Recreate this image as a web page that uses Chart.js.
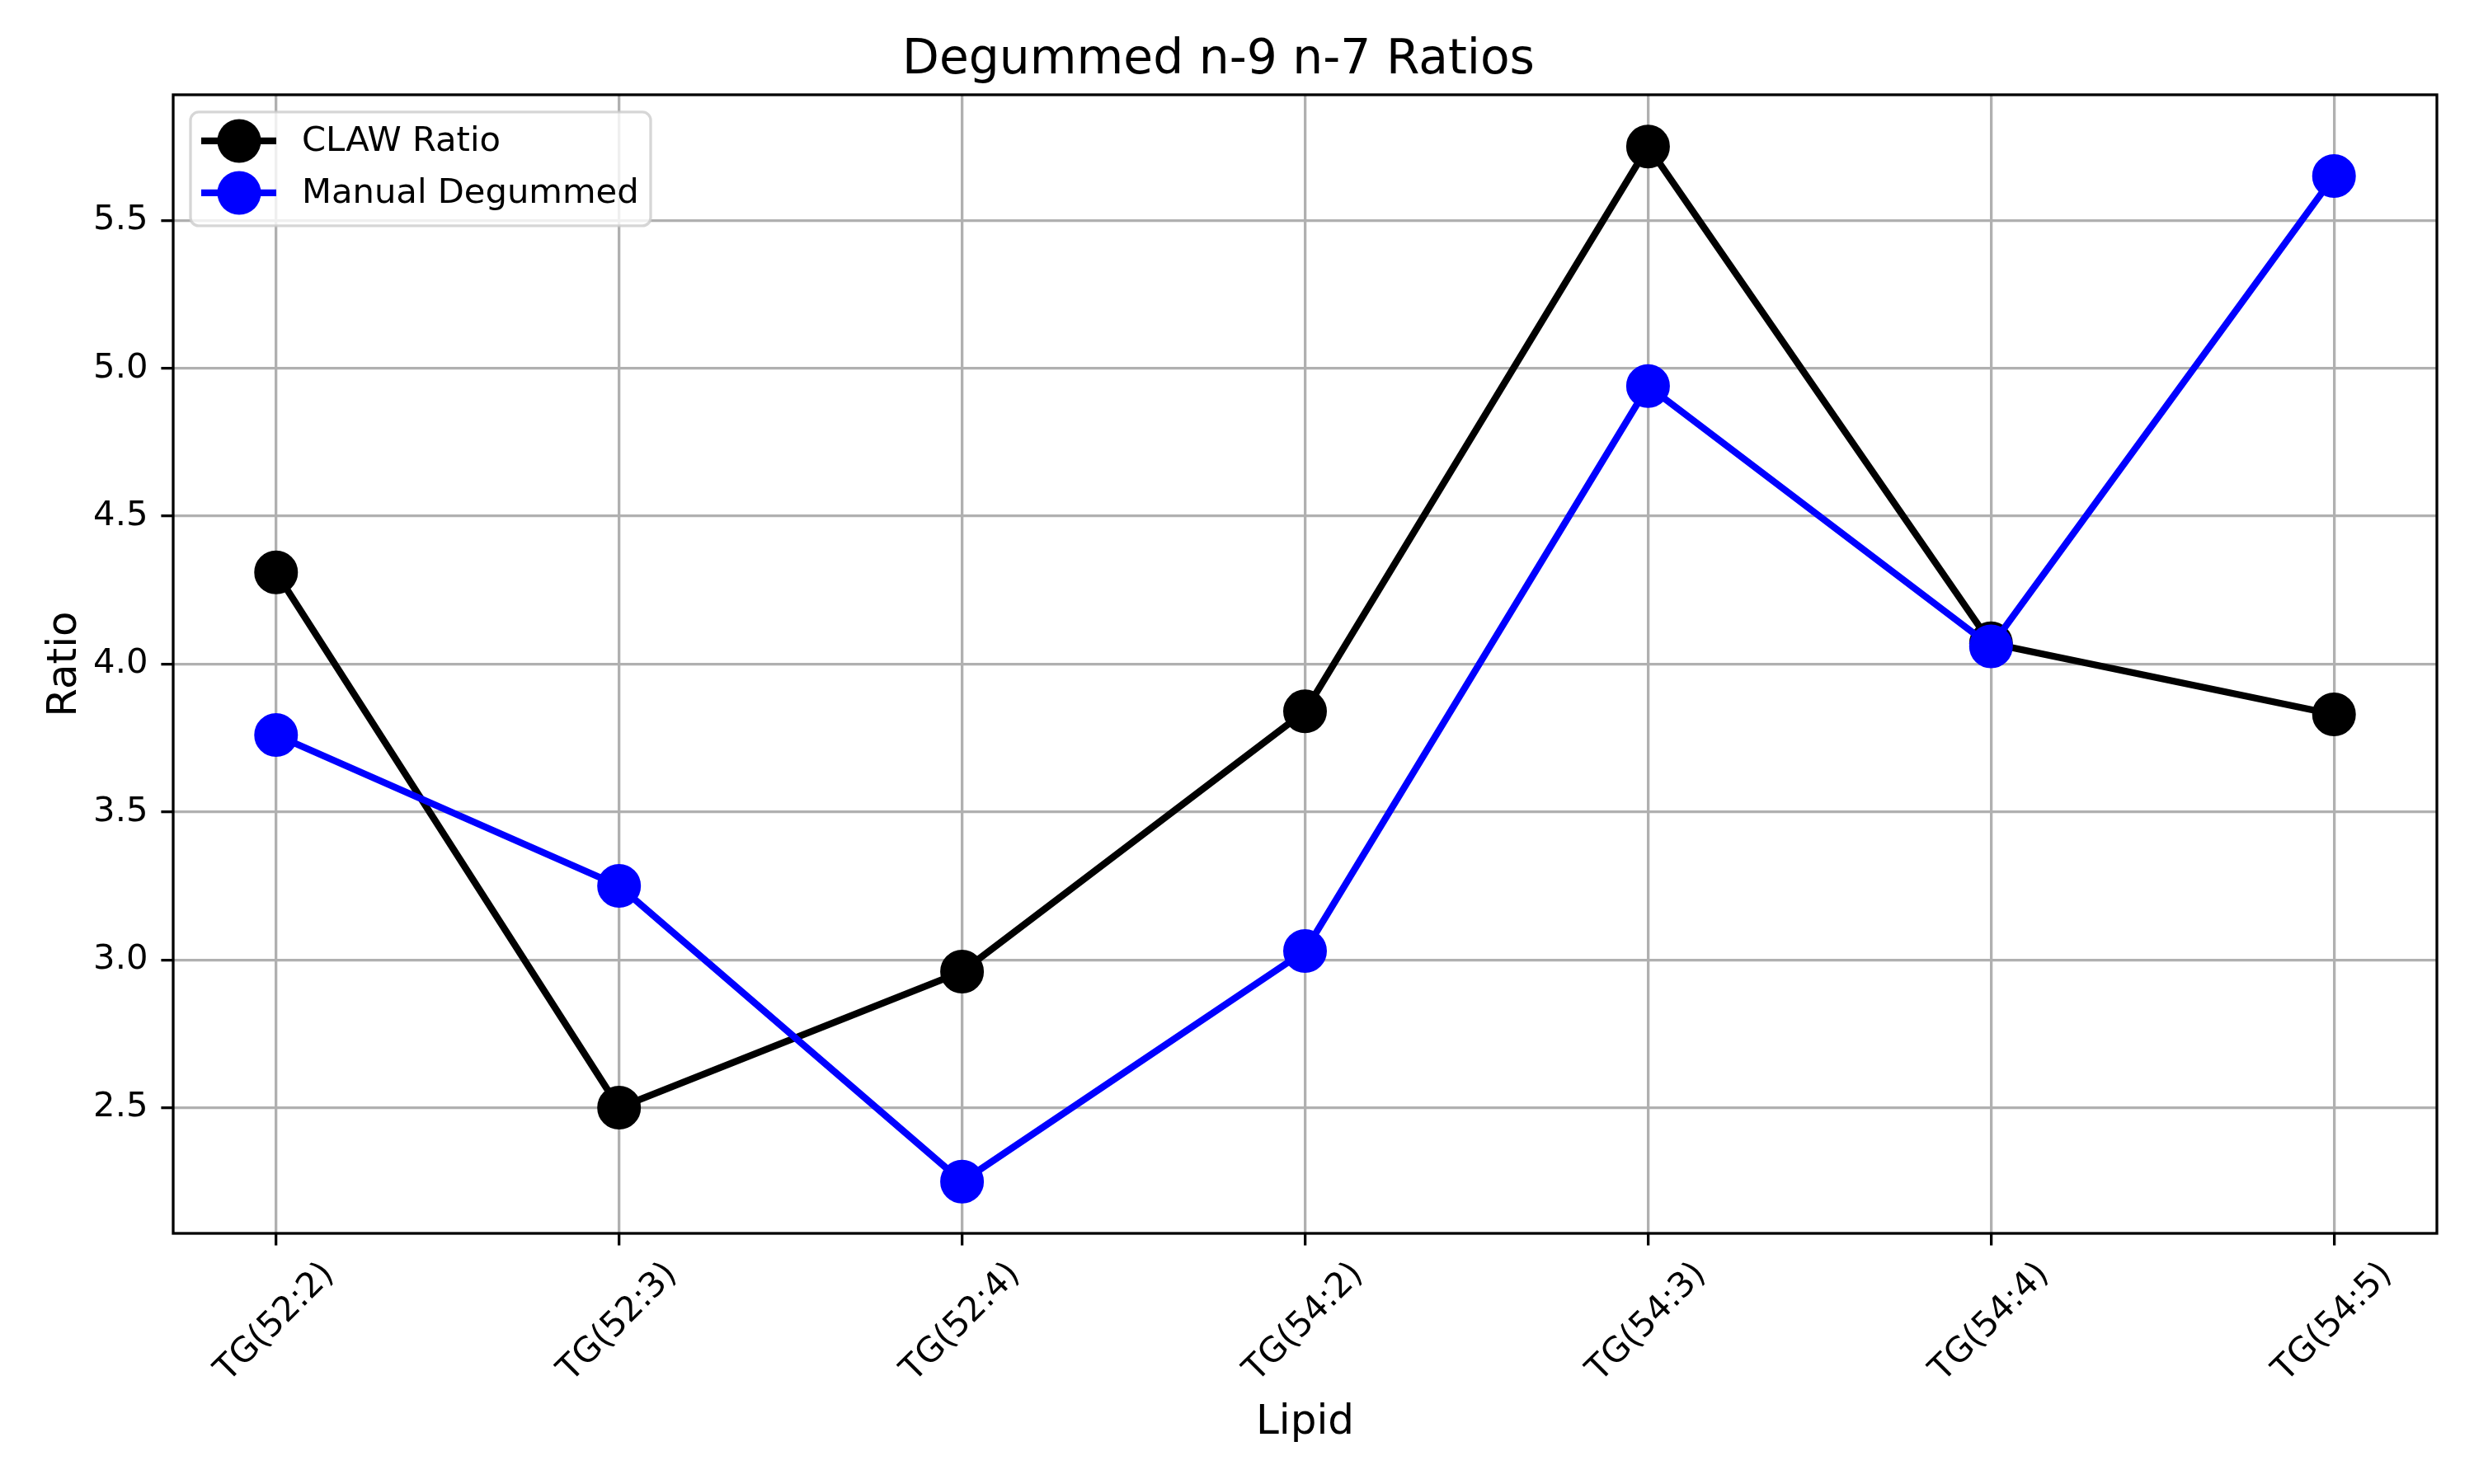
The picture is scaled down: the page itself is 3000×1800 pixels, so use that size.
<!DOCTYPE html>
<html><head><meta charset="utf-8">
<script src="https://cdn.jsdelivr.net/npm/chart.js@4.4.1/dist/chart.umd.min.js"></script>
<style>html,body{margin:0;padding:0;background:#fff}#wrap{width:3000px;height:1800px;position:relative}</style>
</head><body><div id="wrap"><canvas id="c"></canvas></div>
<script>
const categories = ['TG(52:2)','TG(52:3)','TG(52:4)','TG(54:2)','TG(54:3)','TG(54:4)','TG(54:5)'];
const clawRatio = [4.31, 2.50, 2.96, 3.84, 5.75, 4.07, 3.83];
const manualDegummed = [3.76, 3.25, 2.25, 3.03, 4.94, 4.06, 5.65];
const yTicks = [2.5, 3.0, 3.5, 4.0, 4.5, 5.0, 5.5];
const seriesNames = ['CLAW Ratio', 'Manual Degummed'];
const seriesColors = ['#000000', '#0000ff'];
const titleText = 'Degummed n-9 n-7 Ratios';
const xTitle = 'Lipid';
const yTitle = 'Ratio';

const FONT = "'DejaVu Sans', sans-serif";
const allVals = clawRatio.concat(manualDegummed);
const dMin = Math.min(...allVals), dMax = Math.max(...allVals);
const yPad = (dMax - dMin) * 0.05;
const xPad = (categories.length - 1) * 0.05;

const frame = {
  id: 'frame',
  afterDatasetsDraw(chart) {
    const a = chart.chartArea, ctx = chart.ctx;
    ctx.save();
    ctx.strokeStyle = '#000';
    ctx.lineWidth = 3.3;
    ctx.strokeRect(a.left, a.top, a.right - a.left, a.bottom - a.top);
    ctx.restore();
  }
};

const mplLegend = {
  id: 'mplLegend',
  afterDraw(chart) {
    const a = chart.chartArea, ctx = chart.ctx;
    const x0 = a.left + 21, y0 = a.top + 21, w = 558, h = 138, r = 10;
    ctx.save();
    ctx.beginPath();
    ctx.roundRect(x0, y0, w, h, r);
    ctx.fillStyle = 'rgba(255,255,255,0.8)';
    ctx.fill();
    ctx.strokeStyle = 'rgba(204,204,204,0.8)';
    ctx.lineWidth = 3.3;
    ctx.stroke();
    chart.data.datasets.forEach((ds, i) => {
      const cy = y0 + 35 + i * 63;
      ctx.strokeStyle = ds.borderColor;
      ctx.lineWidth = ds.borderWidth;
      ctx.beginPath();
      ctx.moveTo(x0 + 13, cy);
      ctx.lineTo(x0 + 104, cy);
      ctx.stroke();
      ctx.beginPath();
      ctx.arc(x0 + 59, cy, 26.5, 0, Math.PI * 2);
      ctx.fillStyle = ds.pointBackgroundColor;
      ctx.fill();
      ctx.fillStyle = '#000';
      ctx.font = '41.7px ' + FONT;
      ctx.textBaseline = 'middle';
      ctx.textAlign = 'left';
      ctx.fillText(ds.label, x0 + 135, cy + 1);
    });
    ctx.restore();
  }
};

const mkData = arr => arr.map((v, i) => ({x: i, y: v}));

new Chart(document.getElementById('c'), {
  type: 'line',
  data: {
    datasets: [
      {label: seriesNames[0], data: mkData(clawRatio), borderColor: seriesColors[0], backgroundColor: seriesColors[0],
       pointBackgroundColor: seriesColors[0], pointBorderColor: seriesColors[0], borderWidth: 8.3,
       pointRadius: 25, pointBorderWidth: 3, pointHoverRadius: 25, order: 1, tension: 0},
      {label: seriesNames[1], data: mkData(manualDegummed), borderColor: seriesColors[1], backgroundColor: seriesColors[1],
       pointBackgroundColor: seriesColors[1], pointBorderColor: seriesColors[1], borderWidth: 8.3,
       pointRadius: 25, pointBorderWidth: 3, pointHoverRadius: 25, order: 0, tension: 0}
    ]
  },
  options: {
    responsive: true, maintainAspectRatio: false, devicePixelRatio: 1, animation: false,
    layout: {padding: {left: 0, right: 45, top: 0, bottom: 0}},
    plugins: {
      legend: {display: false},
      tooltip: {enabled: false},
      title: {display: true, text: titleText, color: '#000',
        font: {family: FONT, size: 58.3, weight: 'normal', lineHeight: 1.2},
        padding: {top: 39, bottom: 6}}
    },
    scales: {
      x: {
        type: 'linear', min: -xPad, max: categories.length - 1 + xPad,
        afterBuildTicks: s => { s.ticks = categories.map((_, i) => ({value: i})); },
        afterFit: s => { s.height = 304; },
        ticks: {autoSkip: false, minRotation: 45, maxRotation: 45, color: '#000', padding: 11, labelOffset: 64,
          font: {family: FONT, size: 41.7},
          callback: v => categories[v]},
        grid: {color: '#b0b0b0', lineWidth: 3.3, tickColor: '#000', tickWidth: 3.3, tickLength: 14.6, drawTicks: true},
        border: {display: false},
        title: {display: true, text: xTitle, color: '#000', font: {family: FONT, size: 50, lineHeight: 1.2}, padding: {top: 44, bottom: 44}}
      },
      y: {
        type: 'linear', min: dMin - yPad, max: dMax + yPad,
        afterBuildTicks: s => { s.ticks = yTicks.map(v => ({value: v})); },
        afterFit: s => { s.width = 210; },
        ticks: {color: '#000', padding: 16, font: {family: FONT, size: 41.7}, callback: v => Number(v).toFixed(1)},
        grid: {color: '#b0b0b0', lineWidth: 3.3, tickColor: '#000', tickWidth: 3.3, tickLength: 14.6, drawTicks: true},
        border: {display: false},
        title: {display: true, text: yTitle, color: '#000', font: {family: FONT, size: 50, lineHeight: 1.2}, padding: {top: 49, bottom: 0}}
      }
    }
  },
  plugins: [frame, mplLegend]
});
</script></body></html>
